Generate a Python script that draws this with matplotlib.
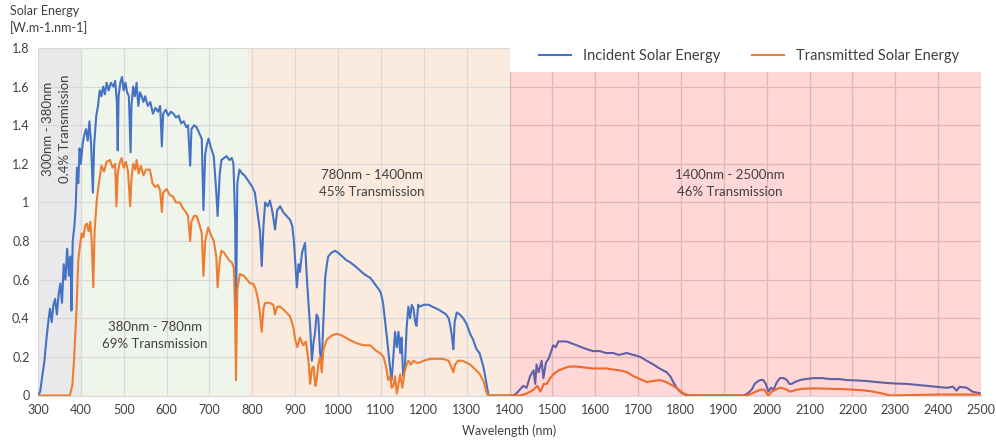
import matplotlib
matplotlib.use('Agg')
import matplotlib.pyplot as plt

# incident spectrum (wavelength nm, W.m-1.nm-1)
inc_wl = [300, 305, 310, 315, 320, 325, 328, 332, 336, 340, 344, 348, 352, 356, 360, 364, 368, 372, 376, 378,
          381, 385, 388, 391, 394, 397, 400, 404, 408, 412, 416, 420, 424, 428, 431, 436, 440, 444, 448, 452,
          456, 460, 465, 470, 476, 480, 484, 486, 488, 492, 496, 500, 504, 508, 512, 516, 518, 522, 526, 530,
          534, 538, 542, 546, 550, 556, 562, 568, 574, 580, 585, 589, 592, 598, 604, 610, 616, 622, 628, 634,
          640, 646, 650, 655, 658, 664, 670, 676, 682, 686, 690, 694, 698, 704, 710, 716, 719, 724, 728, 734,
          740, 746, 752, 756, 760, 762, 765, 770, 776, 782, 788, 794, 800, 806, 812, 818, 822, 826, 830, 836,
          841, 847, 853, 858, 865, 872, 880, 888, 893, 897, 900, 904, 908, 911, 916, 923, 927, 931, 935, 939,
          943, 946, 950, 954, 958, 962, 966, 970, 974, 977, 985, 993, 1000, 1010, 1020, 1028, 1040, 1050, 1060, 1067,
          1075, 1085, 1095, 1100, 1105, 1110, 1115, 1121, 1125, 1129, 1133, 1137, 1141, 1145, 1148, 1152, 1156, 1160, 1164, 1168,
          1172, 1176, 1180, 1183, 1187, 1191, 1200, 1211, 1220, 1230, 1238, 1245, 1252, 1258, 1262, 1266, 1269, 1272, 1277, 1284,
          1292, 1300, 1308, 1315, 1323, 1330, 1335, 1339, 1344, 1347, 1351, 1410, 1420, 1432, 1440, 1448, 1456, 1460, 1463, 1468,
          1475, 1479, 1485, 1491, 1496, 1502, 1508, 1514, 1525, 1533, 1545, 1557, 1568, 1580, 1595, 1611, 1625, 1642, 1655, 1673,
          1690, 1705, 1720, 1736, 1750, 1767, 1775, 1782, 1790, 1798, 1813, 1946, 1955, 1965, 1972, 1977, 1985, 1992, 1998, 2004,
          2010, 2016, 2024, 2031, 2040, 2047, 2053, 2058, 2066, 2078, 2090, 2109, 2130, 2148, 2170, 2187, 2210, 2233, 2255, 2280,
          2300, 2327, 2350, 2373, 2395, 2420, 2435, 2443, 2450, 2467, 2480, 2490, 2500]
inc_val = [0.00, 0.02, 0.10, 0.18, 0.30, 0.40, 0.45, 0.38, 0.47, 0.50, 0.42, 0.52, 0.58, 0.48, 0.68, 0.60, 0.76, 0.62, 0.72, 0.44,
           0.80, 0.88, 0.98, 1.18, 1.10, 1.28, 1.20, 1.30, 1.35, 1.38, 1.32, 1.42, 1.30, 1.05, 1.30, 1.45, 1.50, 1.58, 1.55, 1.60,
           1.56, 1.62, 1.58, 1.62, 1.60, 1.63, 1.52, 1.27, 1.55, 1.62, 1.65, 1.58, 1.62, 1.57, 1.55, 1.26, 1.50, 1.60, 1.55, 1.62,
           1.50, 1.57, 1.55, 1.52, 1.55, 1.50, 1.52, 1.46, 1.49, 1.47, 1.50, 1.29, 1.46, 1.48, 1.45, 1.47, 1.46, 1.44, 1.45, 1.41,
           1.42, 1.39, 1.40, 1.19, 1.38, 1.40, 1.39, 1.36, 1.33, 0.96, 1.25, 1.30, 1.33, 1.28, 1.24, 1.05, 0.93, 1.15, 1.22, 1.23,
           1.24, 1.22, 1.23, 1.20, 0.90, 0.40, 1.10, 1.17, 1.15, 1.14, 1.12, 1.10, 1.08, 1.05, 0.95, 0.85, 0.67, 0.88, 1.00, 0.98,
           1.01, 0.95, 0.86, 0.96, 0.98, 0.95, 0.93, 0.91, 0.88, 0.80, 0.70, 0.56, 0.68, 0.64, 0.74, 0.79, 0.62, 0.48, 0.35, 0.18,
           0.28, 0.32, 0.42, 0.40, 0.22, 0.18, 0.40, 0.61, 0.68, 0.72, 0.74, 0.75, 0.74, 0.72, 0.70, 0.69, 0.67, 0.65, 0.63, 0.62,
           0.61, 0.58, 0.55, 0.53, 0.48, 0.38, 0.28, 0.15, 0.08, 0.20, 0.33, 0.25, 0.33, 0.22, 0.30, 0.10, 0.15, 0.35, 0.46, 0.40,
           0.47, 0.45, 0.38, 0.36, 0.47, 0.46, 0.47, 0.47, 0.46, 0.45, 0.44, 0.43, 0.42, 0.40, 0.36, 0.30, 0.24, 0.38, 0.43, 0.42,
           0.40, 0.37, 0.32, 0.29, 0.24, 0.22, 0.18, 0.15, 0.09, 0.05, 0.00, 0.00, 0.02, 0.05, 0.04, 0.10, 0.13, 0.06, 0.16, 0.12,
           0.18, 0.09, 0.17, 0.19, 0.22, 0.26, 0.25, 0.28, 0.28, 0.28, 0.27, 0.26, 0.25, 0.24, 0.23, 0.23, 0.22, 0.22, 0.21, 0.22,
           0.21, 0.20, 0.18, 0.16, 0.14, 0.12, 0.10, 0.07, 0.04, 0.02, 0.00, 0.00, 0.01, 0.03, 0.06, 0.07, 0.08, 0.08, 0.06, 0.02,
           0.04, 0.03, 0.07, 0.09, 0.09, 0.08, 0.06, 0.06, 0.07, 0.08, 0.085, 0.09, 0.09, 0.085, 0.085, 0.08, 0.078, 0.075, 0.07, 0.065,
           0.062, 0.06, 0.055, 0.05, 0.045, 0.04, 0.045, 0.025, 0.045, 0.04, 0.02, 0.015, 0.01]

# transmitted spectrum
tr_wl = [300, 374, 380, 384, 386, 390, 394, 398, 402, 406, 410, 414, 418, 422, 425, 429, 432, 437, 442, 448,
         454, 460, 468, 474, 480, 483, 486, 490, 495, 500, 505, 510, 515, 518, 522, 527, 530, 535, 540, 546,
         552, 561, 567, 573, 580, 585, 589, 592, 600, 607, 615, 622, 631, 638, 645, 650, 655, 658, 664, 670,
         676, 682, 686, 690, 697, 704, 710, 716, 719, 724, 728, 734, 740, 746, 752, 757, 760, 762, 765, 771,
         780, 788, 795, 802, 808, 814, 818, 822, 826, 830, 840, 849, 853, 858, 865, 875, 888, 895, 900, 905,
         911, 919, 925, 931, 935, 939, 943, 947, 950, 954, 958, 962, 966, 974, 985, 997, 1010, 1025, 1044, 1060,
         1075, 1090, 1098, 1106, 1112, 1117, 1122, 1125, 1129, 1133, 1137, 1141, 1145, 1150, 1155, 1160, 1164, 1170, 1176, 1183,
         1190, 1200, 1215, 1230, 1245, 1258, 1264, 1269, 1273, 1280, 1290, 1300, 1308, 1318, 1331, 1340, 1347, 1352, 1425, 1440,
         1456, 1465, 1472, 1480, 1487, 1495, 1502, 1515, 1526, 1540, 1557, 1575, 1596, 1610, 1627, 1640, 1658, 1675, 1689, 1705,
         1720, 1735, 1751, 1765, 1782, 1795, 1806, 1821, 1953, 1965, 1975, 1985, 1995, 2000, 2004, 2012, 2020, 2031, 2042, 2055,
         2070, 2086, 2110, 2148, 2180, 2202, 2225, 2249, 2270, 2288, 2400, 2500]
tr_val = [0.00, 0.00, 0.05, 0.18, 0.27, 0.45, 0.70, 0.78, 0.84, 0.82, 0.88, 0.89, 0.85, 0.90, 0.81, 0.56, 0.85, 1.01, 1.10, 1.19,
          1.16, 1.21, 1.22, 1.18, 1.20, 0.98, 1.15, 1.20, 1.23, 1.18, 1.21, 1.16, 0.98, 1.12, 1.20, 1.17, 1.22, 1.15, 1.19, 1.14,
          1.17, 1.17, 1.10, 1.08, 1.09, 1.06, 0.95, 1.05, 1.07, 1.04, 1.03, 1.00, 1.00, 0.97, 0.95, 0.93, 0.80, 0.90, 0.93, 0.93,
          0.89, 0.84, 0.62, 0.80, 0.87, 0.83, 0.80, 0.72, 0.56, 0.70, 0.75, 0.74, 0.72, 0.70, 0.69, 0.66, 0.40, 0.08, 0.55, 0.63,
          0.62, 0.60, 0.58, 0.58, 0.55, 0.49, 0.42, 0.33, 0.45, 0.48, 0.48, 0.47, 0.42, 0.46, 0.46, 0.44, 0.41, 0.36, 0.29, 0.25,
          0.30, 0.26, 0.28, 0.18, 0.06, 0.14, 0.15, 0.05, 0.08, 0.16, 0.20, 0.12, 0.24, 0.29, 0.31, 0.32, 0.31, 0.29, 0.27, 0.26,
          0.26, 0.23, 0.22, 0.20, 0.15, 0.08, 0.10, 0.04, 0.05, 0.10, 0.01, 0.06, 0.11, 0.04, 0.12, 0.16, 0.18, 0.16, 0.18, 0.17,
          0.17, 0.18, 0.19, 0.19, 0.19, 0.18, 0.15, 0.12, 0.16, 0.18, 0.18, 0.17, 0.16, 0.14, 0.11, 0.07, 0.01, 0.00, 0.00, 0.01,
          0.03, 0.05, 0.02, 0.06, 0.06, 0.09, 0.11, 0.13, 0.14, 0.15, 0.15, 0.145, 0.14, 0.14, 0.14, 0.135, 0.13, 0.12, 0.10, 0.085,
          0.07, 0.075, 0.08, 0.07, 0.05, 0.03, 0.01, 0.00, 0.00, 0.01, 0.02, 0.03, 0.03, 0.01, 0.00, 0.02, 0.03, 0.04, 0.035, 0.02,
          0.03, 0.035, 0.037, 0.035, 0.033, 0.03, 0.027, 0.02, 0.01, 0.00, 0.005, 0.005]

# shaded bands behind the lines
bands = [(300, 400, '#E9E9EB'), (400, 790, '#F0F5EC'), (790, 1400, '#FBEBDF')]
band_labels = ['300nm - 380nm\n0.4% Transmission', '380nm - 780nm\n69% Transmission',
               '780nm - 1400nm\n45% Transmission', '1400nm - 2500nm\n46% Transmission']
label_pos = [(342, 1.38), (573, 0.31), (1078, 1.10), (1915, 1.10)]
yticks = [0, 0.2, 0.4, 0.6, 0.8, 1.0, 1.2, 1.4, 1.6, 1.8]
ytick_labels = ['0', '0.2', '0.4', '0.6', '0.8', '1', '1.2', '1.4', '1.6', '1.8']
xticks = list(range(300, 2501, 100))

plt.rcParams['font.family'] = ['Lato', 'DejaVu Sans']
txt = '#404040'

fig = plt.figure(figsize=(9.96, 4.42), dpi=100)
ax = fig.add_axes([38/996, 1-395.5/442, 943/996, 347.5/442])

for b in bands:
    ax.axvspan(b[0], b[1], color=b[2], zorder=0, lw=0)

ax.plot(inc_wl, inc_val, color='#4472C4', lw=1.5, zorder=3, label='Incident Solar Energy')
ax.plot(tr_wl, tr_val, color='#ED7D31', lw=1.5, zorder=3, label='Transmitted Solar Energy')

# the last band sits on top of the lines in the original, with white above it
ax.fill_between([1400, 2500], 0, 1.676, color='#FF0000', alpha=0.155, lw=0, zorder=4)
ax.fill_between([1400, 2500], 1.676, 1.8, color='white', lw=0, zorder=4)

ax.set_xlim(300, 2500)
ax.set_ylim(0, 1.8)
ax.set_xticks(xticks)
ax.set_yticks(yticks)
ax.set_yticklabels(ytick_labels)
ax.grid(True, color='#D9D9D9', lw=0.9, zorder=1)
ax.set_axisbelow(True)
for s in ['left', 'right', 'top']:
    ax.spines[s].set_visible(False)
ax.spines['bottom'].set_color('#D9D9D9')
ax.tick_params(length=0, labelsize=9, colors='#404040', pad=6)

for t, p in zip(band_labels, label_pos):
    rot = 90 if p[0] < 400 else 0
    ax.text(p[0], p[1], t, ha='center', va='center', rotation=rot, fontsize=9.5,
            color=txt, linespacing=1.5, zorder=5)

fig.text(10/996, 1-5/442, 'Solar Energy\n[W.m-1.nm-1]', ha='left', va='top', fontsize=9,
         color=txt, linespacing=1.4)
fig.text(509/996, 1-431/442, 'Wavelength (nm)', ha='center', va='center', fontsize=9, color=txt)

fig.legend(loc='center', bbox_to_anchor=(749/996, 1-56/442), ncol=2, frameon=False,
           fontsize=10.5, handlelength=2.2, columnspacing=2.2, labelcolor=txt)

fig.savefig('out.png', dpi=100)
